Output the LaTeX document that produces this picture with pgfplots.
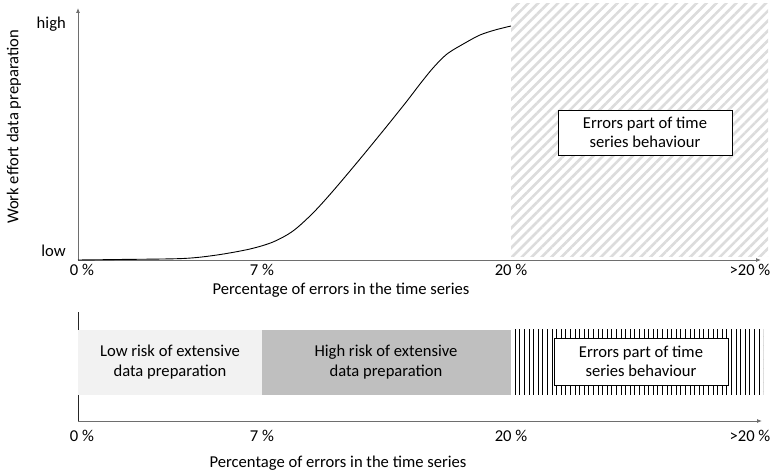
\documentclass[border=0pt]{standalone}
\usepackage{pgfplots}
\pgfplotsset{compat=1.18}
\usepackage{fontspec}
\setmainfont{Carlito}
\usetikzlibrary{arrows.meta,patterns.meta}
\definecolor{lightbar}{HTML}{F2F2F2}
\definecolor{darkbar}{HTML}{BFBFBF}
\definecolor{hatchc}{HTML}{DCDCDC}
\definecolor{axc}{HTML}{6E6E6E}
\newcommand{\fs}{\fontsize{16.6bp}{19.5bp}\selectfont}
\begin{document}
\fs
\begin{tikzpicture}[font=\fs]
\useasboundingbox (0,0) rectangle (777bp,472bp);
% ---------- top panel ----------
\begin{axis}[
  at={(78bp,212bp)}, anchor=origin,
  x=1bp, y=1bp,
  xmin=0, xmax=683, ymin=0, ymax=252,
  axis x line=bottom, axis y line=left,
  axis line style={axc, line width=0.8bp},
  x axis line style={-{Latex[length=5bp,width=4bp]}},
  y axis line style={-{Latex[length=5bp,width=4bp]}},
  clip=false,
  xtick={4,184,433,672}, xticklabels={0~\%,7~\%,20~\%,>20~\%},
  ytick={9,236}, yticklabels={low,high},
  major tick length=0pt,
  xticklabel style={anchor=north, inner sep=0pt, yshift=-4bp, font=\fs},
  yticklabel style={anchor=east, inner sep=0pt, xshift=-12bp, font=\fs},
  /pgf/number format/assume math mode=true,
]
\addplot[draw=none, pattern={Lines[angle=45,distance=7bp,line width=2.6bp]}, pattern color=hatchc]
  coordinates {(433,3) (690,3) (690,256) (433,256)} -- cycle;
\addplot[black, line width=0.9bp, smooth, tension=0.5] coordinates {
 (0,0) (40,0.5) (105,1.5) (139,5) (172,11) (195,18) (215,29) (235,47) (255,69)
 (282,101) (309,134) (329,159) (342,176) (355,192) (369,206)
 (387,217) (402,225) (417,230) (433,234)};
\node[draw=black, fill=white, line width=0.6bp, minimum width=174bp, minimum height=45bp, align=center, inner sep=2bp]
  at (axis cs:567,127.5) {Errors part of time\\series behaviour};
\node[rotate=90] at (axis cs:-64,133) {Work effort data preparation};
\node at (axis cs:263,-30) {Percentage of errors in the time series};
\end{axis}
% ---------- bottom panel ----------
\begin{axis}[
  at={(78bp,51bp)}, anchor=origin,
  x=1bp, y=1bp,
  xmin=0, xmax=684, ymin=0, ymax=109,
  axis x line=bottom, axis y line=left,
  axis line style={black!85, line width=0.8bp},
  x axis line style={axc, -{Latex[length=5bp,width=4bp]}},
  y axis line style={-},
  clip=false,
  xtick={4,184,433,672}, xticklabels={0~\%,7~\%,20~\%,>20~\%},
  ytick=\empty,
  major tick length=0pt,
  xticklabel style={anchor=north, inner sep=0pt, yshift=-9bp, font=\fs},
]
\addplot[draw=none, fill=lightbar] coordinates {(0,26) (184,26) (184,91) (0,91)} -- cycle;
\addplot[draw=none, fill=darkbar] coordinates {(184,26) (433,26) (433,91) (184,91)} -- cycle;
\addplot[draw=none, pattern={Lines[angle=90,distance=4.6bp,line width=1bp]}, pattern color=black]
  coordinates {(437,26) (685,26) (685,91) (437,91)} -- cycle;
\node[draw=black, fill=white, line width=0.6bp, minimum width=174bp, minimum height=47bp, align=center, inner sep=2bp]
  at (axis cs:563,59.5) {Errors part of time\\series behaviour};
\node[align=center] at (axis cs:92,59) {Low risk of extensive\\data preparation};
\node[align=center] at (axis cs:308,59) {High risk of extensive\\data preparation};
\node at (axis cs:260,-42) {Percentage of errors in the time series};
\end{axis}
\end{tikzpicture}
\end{document}
